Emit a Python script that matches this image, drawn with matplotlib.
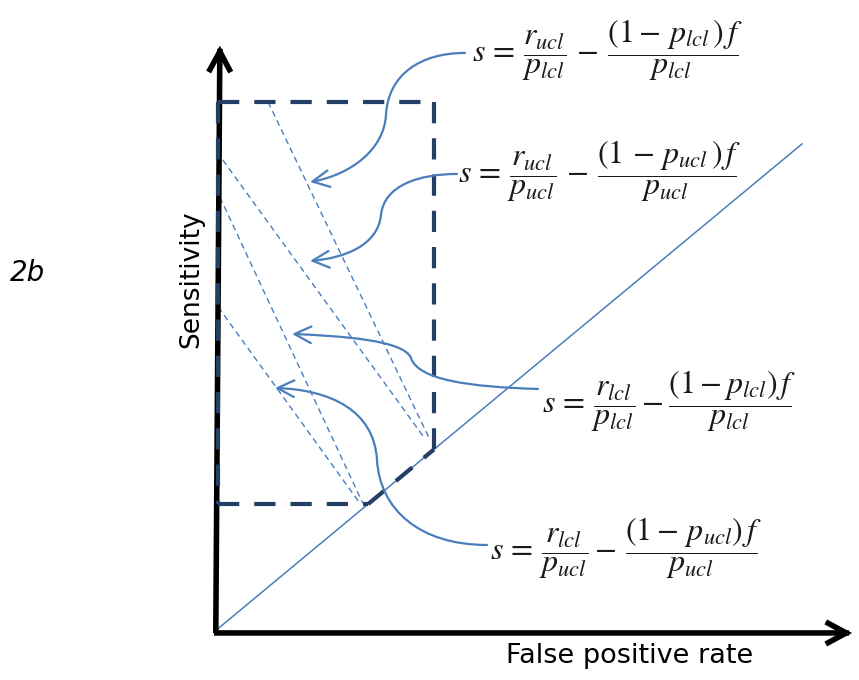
import matplotlib
matplotlib.use("Agg")
import matplotlib.pyplot as plt
from matplotlib.path import Path
from matplotlib.patches import FancyArrowPatch

# ---------------- diagram values (normalized ROC units) ----------------
# x = false positive rate, y = sensitivity
diag_x = [0.0, 1.0]
diag_y = [0.0, 1.0]

# confidence box (thick dashed)
box_left, box_right = 0.007, 0.374
box_bottom, box_top = 0.262, 1.086

# thin dashed iso-lines (start -> end)
iso_x0 = [0.092, 0.015, 0.010, 0.007]
iso_y0 = [1.086, 0.967, 0.891, 0.666]
iso_x1 = [0.366, 0.357, 0.253, 0.248]
iso_y1 = [0.397, 0.399, 0.264, 0.264]

# equations
equations = [
    r"$s\,=\,\dfrac{r_{ucl}}{p_{lcl}}\,-\,\dfrac{(1-\,p_{lcl}\,)\,f}{p_{lcl}}$",
    r"$s\,=\,\dfrac{r_{ucl}}{p_{ucl}}\,-\,\dfrac{(1\,-\,p_{ucl}\,)\,f}{p_{ucl}}$",
    r"$s\,=\,\dfrac{r_{lcl}}{p_{lcl}}-\dfrac{(1-p_{lcl})\,f}{p_{lcl}}$",
    r"$s\,=\,\dfrac{r_{lcl}}{p_{ucl}}-\,\dfrac{(1-\,p_{ucl})\,f}{p_{ucl}}$",
]
eq_x = [0.439, 0.415, 0.558, 0.469]
eq_y = [1.193, 0.945, 0.473, 0.172]

# curved connector arrows: two cubic Bezier segments each (start ... arrow tip)
curve_x = [
    [0.4269, 0.3503, 0.2959, 0.2925, 0.2891, 0.2313, 0.1633],
    [0.4133, 0.3503, 0.2891, 0.2840, 0.2789, 0.2228, 0.1633],
    [0.5510, 0.4354, 0.3469, 0.3350, 0.3231, 0.2143, 0.1327],
    [0.4643, 0.3503, 0.2823, 0.2772, 0.2721, 0.1973, 0.1037],
]
curve_y = [
    [1.1865, 1.1865, 1.1414, 1.0594, 0.9877, 0.9365, 0.9221],
    [0.9385, 0.9385, 0.9160, 0.8545, 0.7930, 0.7664, 0.7602],
    [0.4980, 0.5020, 0.5164, 0.5615, 0.5984, 0.6066, 0.6107],
    [0.1783, 0.1783, 0.2500, 0.3525, 0.4549, 0.4959, 0.5000],
]

# axes arrows
yaxis_start, yaxis_end = (0.003, -0.002), (0.010, 1.207)
xaxis_start, xaxis_end = (0.000, -0.002), (1.090, -0.002)

x_label = "False positive rate"
y_label = "Sensitivity"
panel_label = "2b"

# ---------------- styles ----------------
NAVY = "#243F66"
BLUE = "#4A7EBB"
plt.rcParams["mathtext.fontset"] = "stix"

fig = plt.figure(figsize=(8.59, 6.80), dpi=100)
ax = fig.add_axes([0, 0, 1, 1])
ax.set_xlim(-0.364, 1.097)
ax.set_ylim(-0.0984, 1.295)
ax.axis("off")

# axes with arrows
for a, b in [(yaxis_start, yaxis_end), (xaxis_start, xaxis_end)]:
    ax.add_patch(FancyArrowPatch(a, b, arrowstyle="->,head_length=1.3,head_width=0.7",
                                 mutation_scale=10, lw=4, color="black",
                                 joinstyle="miter", capstyle="projecting", zorder=3))

# diagonal
ax.plot(diag_x, diag_y, color=BLUE, lw=1.1, zorder=2)

# thin dashed iso-lines
for x0, y0, x1, y1 in zip(iso_x0, iso_y0, iso_x1, iso_y1):
    ax.plot([x0, x1], [y0, y1], color=BLUE, lw=1.0, dashes=(4.3, 3.0), zorder=2)

# thick dashed box (each side drawn from its starting corner)
box_dash = dict(color=NAVY, lw=3.0, dashes=(5.1, 3.6), zorder=4, solid_capstyle="butt")
ax.plot([box_left, box_right], [box_top, box_top], **box_dash)
ax.plot([box_right, box_right], [box_top, box_right], **box_dash)
ax.plot([box_left, box_left], [box_top, box_bottom], **box_dash)
ax.plot([box_left, box_bottom], [box_bottom, box_bottom], **box_dash)
ax.plot([box_bottom, box_right], [box_bottom, box_right], **box_dash)

# curved arrows
codes = [Path.MOVETO] + [Path.CURVE4] * 6
for cx, cy in zip(curve_x, curve_y):
    path = Path(list(zip(cx, cy)), codes)
    ax.add_patch(FancyArrowPatch(path=path, arrowstyle="->,head_length=1.2,head_width=0.6",
                                 mutation_scale=10, lw=1.6, color=BLUE, zorder=5))

# equations
for txt, x, y in zip(equations, eq_x, eq_y):
    ax.text(x, y, txt, fontsize=23, ha="left", va="center", color="#1a1a1a", zorder=6)

# labels
ax.text(0.7075, -0.0635, x_label, fontsize=19.5, ha="center", va="baseline",
        family="DejaVu Sans")
ax.text(-0.039, 0.723, y_label, fontsize=19, ha="center", va="center", rotation=90,
        family="DejaVu Sans")
ax.text(-0.347, 0.736, panel_label, fontsize=20, ha="left", va="center", style="italic",
        family="DejaVu Sans")

fig.savefig("out.png", dpi=100)
